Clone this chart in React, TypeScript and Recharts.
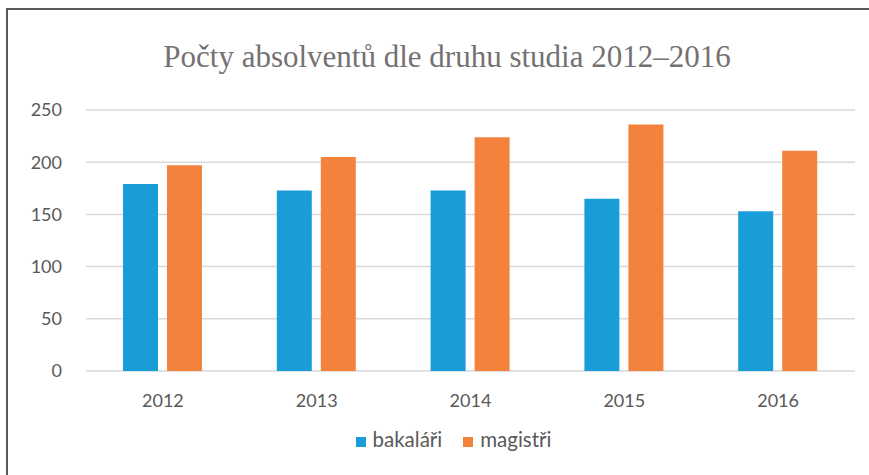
import { BarChart, Bar, XAxis, YAxis, CartesianGrid, Legend } from "recharts";

const years = ["2012", "2013", "2014", "2015", "2016"];
const bakalari = [179, 173, 173, 165, 153];
const magistri = [197, 205, 224, 236, 211];
const yTicks = [0, 50, 100, 150, 200, 250];

const data = years.map((y, i) => ({ year: y, bakalari: bakalari[i], magistri: magistri[i] }));

const BLUE = "#189DD8";
const ORANGE = "#F3823D";
const TEXT = "#595959";
const FONT = "Lato, 'Open Sans', sans-serif";

export default function App() {
  return (
    <div style={{ position: "absolute", left: 0, top: 0, width: 869, height: 475, background: "white", overflow: "hidden" }}>
      <div
        style={{
          position: "absolute",
          left: 6,
          top: 8,
          width: 900,
          height: 500,
          border: "2px solid #595959",
          boxSizing: "border-box",
        }}
      />
      <div
        style={{
          position: "absolute",
          left: 0,
          top: 39,
          width: 894,
          textAlign: "center",
          fontFamily: "'Liberation Serif', 'Times New Roman', serif",
          fontSize: 31,
          color: "#767171",
        }}
      >
        Počty absolventů dle druhu studia 2012–2016
      </div>
      <BarChart
        width={869}
        height={475}
        data={data}
        margin={{ top: 110, right: 14, left: 0, bottom: 50 }}
        barSize={35}
        barGap={9}
        style={{ position: "absolute", left: 0, top: 0 }}
      >
        <CartesianGrid horizontal vertical={false} stroke="#d9d9d9" strokeWidth={1.5} />
        <XAxis
          dataKey="year"
          axisLine={false}
          tickLine={false}
          tickMargin={17}
          tick={{ fontSize: 18, fill: TEXT, fontFamily: FONT }}
        />
        <YAxis
          domain={[0, 250]}
          ticks={yTicks}
          width={86}
          axisLine={false}
          tickLine={false}
          tickMargin={18}
          tick={{ fontSize: 18, fill: TEXT, fontFamily: FONT }}
        />
        <Legend
          verticalAlign="bottom"
          iconType="square"
          iconSize={10}
          wrapperStyle={{ top: 427, left: 0, width: 928, fontFamily: FONT, fontSize: 20.5 }}
          formatter={(v: string) => (
            <span style={{ color: TEXT, paddingLeft: 3, marginRight: 11 }}>{v}</span>
          )}
        />
        <Bar dataKey="bakalari" name="bakaláři" fill={BLUE} isAnimationActive={false} />
        <Bar dataKey="magistri" name="magistři" fill={ORANGE} isAnimationActive={false} />
      </BarChart>
    </div>
  );
}
